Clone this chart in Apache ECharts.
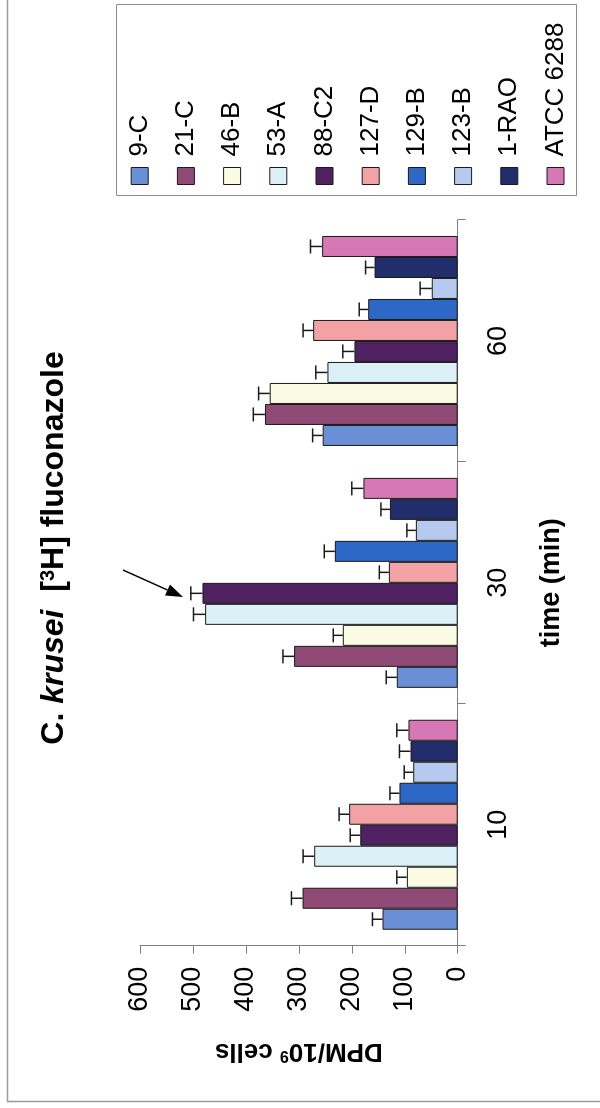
<!DOCTYPE html>
<html lang="en">
<head>
<meta charset="utf-8">
<title>C. krusei [3H] fluconazole</title>
<script src="https://cdn.jsdelivr.net/npm/echarts@6/dist/echarts.min.js"></script>
<style>
html, body { margin: 0; padding: 0; background: #fff; overflow: hidden; }
/* the chart is drawn landscape, then turned a quarter turn to the left like the scan */
#chart {
  position: absolute; left: 0; top: 0;
  width: 1108px; height: 600px;
  transform-origin: 0 0;
  transform: translate(0, 1108px) rotate(-90deg);
}
</style>
</head>
<body>
<div id="chart"></div>
<script>
const categories = ['10', '30', '60'];
const strains = ['9-C', '21-C', '46-B', '53-A', '88-C2', '127-D', '129-B', '123-B', '1-RAO', 'ATCC 6288'];
const colors = ['#6b8fd6', '#8f4a76', '#fbfbe4', '#dcf0f8', '#4f2160', '#f2a2a4', '#2e68c6', '#b6caf0', '#222d6b', '#d678b6'];

// DPM/10^9 cells at 10, 30, 60 min, and the error bar (+) for each
const mean9C   = [142, 115, 255];  const err9C   = [19, 20, 19];
const mean21C  = [293, 309, 364];  const err21C  = [21, 21, 22];
const mean46B  = [96, 217, 355];   const err46B  = [19, 18, 21];
const mean53A  = [271, 477, 246];  const err53A  = [21, 22, 22];
const mean88C2 = [184, 482, 195];  const err88C2 = [19, 22, 22];
const mean127D = [205, 130, 273];  const err127D = [19, 18, 19];
const mean129B = [110, 232, 169];  const err129B = [18, 20, 17];
const mean123B = [84, 79, 49];     const err123B = [17, 17, 22];
const mean1RAO = [89, 128, 157];   const err1RAO = [21, 17, 17];
const meanATCC = [93, 178, 256];   const errATCC = [22, 22, 22];

const means = [mean9C, mean21C, mean46B, mean53A, mean88C2, mean127D, mean129B, mean123B, mean1RAO, meanATCC];
const errs  = [err9C, err21C, err46B, err53A, err88C2, err127D, err129B, err123B, err1RAO, errATCC];

const FONT = "'Liberation Sans', Arial, sans-serif";
const GAP = 0.132; // share of a category band left empty
const AXIS_GREY = '#7f7f7f';

var chart = echarts.init(document.getElementById('chart'), null, {width: 1108, height: 600});

var series = strains.map(function (name, i) {
  return {
    name: name,
    type: 'bar',
    data: means[i],
    barGap: '0%',
    barCategoryGap: (GAP * 100) + '%',
    itemStyle: { color: colors[i], borderColor: '#1a1a1a', borderWidth: 1 },
    emphasis: { disabled: true }
  };
});

var errData = [];
strains.forEach(function (name, s) {
  categories.forEach(function (c, k) {
    errData.push([k, s, means[s][k], errs[s][k]]);
  });
});

function renderErr(params, api) {
  var cat = api.value(0), s = api.value(1), val = api.value(2), err = api.value(3);
  var base = api.coord([cat, val]);
  var end = api.coord([cat, val + err]);
  var band = api.size([1, 0])[0];
  var used = band * (1 - GAP);
  var bw = used / strains.length;
  var x = base[0] - used / 2 + bw * (s + 0.5);
  var half = 7;
  var st = { stroke: '#1a1a1a', lineWidth: 1.5 };
  return {
    type: 'group',
    children: [
      { type: 'line', shape: { x1: x, y1: base[1], x2: x, y2: end[1] }, style: st },
      { type: 'line', shape: { x1: x - half, y1: end[1], x2: x + half, y2: end[1] }, style: st }
    ]
  };
}
series.push({
  name: 'err',
  type: 'custom',
  renderItem: renderErr,
  data: errData,
  encode: { x: 0, y: 2 },
  z: 5,
  silent: true
});

// arrow pointing at 88-C2, 30 min
var arrowFrom = [538, 123];
var arrowTo = [511, 183];
var dx = arrowTo[0] - arrowFrom[0], dy = arrowTo[1] - arrowFrom[1];
var len = Math.sqrt(dx * dx + dy * dy);
var ux = dx / len, uy = dy / len;
var headLen = 17, headHalf = 6;
var hb = [arrowTo[0] - ux * headLen, arrowTo[1] - uy * headLen];

chart.setOption({
  animation: false,
  textStyle: { fontFamily: FONT, color: '#000' },
  title: {
    text: '{b|C. }{i|krusei}{b|  [}{s|3}{b|H] fluconazole}',
    left: 555,
    top: 33,
    textAlign: 'center',
    textStyle: {
      rich: {
        b: { fontSize: 32, fontWeight: 'bold', fontFamily: FONT, color: '#000' },
        i: { fontSize: 32, fontWeight: 'bold', fontStyle: 'italic', fontFamily: FONT, color: '#000' },
        s: { fontSize: 20, fontWeight: 'bold', fontFamily: FONT, color: '#000', verticalAlign: 'top' }
      }
    }
  },
  legend: {
    data: strains,
    orient: 'vertical',
    left: 923,
    top: 126.7,
    height: 470,
    padding: 0,
    icon: 'rect',
    itemWidth: 17,
    itemHeight: 17,
    itemGap: 20.2,
    selectedMode: false,
    itemStyle: { borderColor: '#1a1a1a', borderWidth: 1 },
    textStyle: { fontSize: 26, color: '#000', fontFamily: FONT, padding: [0, 0, 0, 6] }
  },
  grid: {
    left: 162.3,
    right: 220,
    top: 140,
    bottom: 142.3,
    containLabel: false,
    outerBoundsMode: 'none'
  },
  xAxis: {
    type: 'category',
    data: categories,
    position: 'bottom',
    axisLine: { show: true, lineStyle: { color: AXIS_GREY, width: 1 } },
    axisTick: { show: true, length: 8, alignWithLabel: false, lineStyle: { color: AXIS_GREY, width: 1 } },
    axisLabel: { fontSize: 27, color: '#000', margin: 27, fontFamily: FONT },
    splitLine: { show: false },
    name: 'time (min)',
    nameLocation: 'middle',
    nameGap: 80,
    nameTextStyle: { fontSize: 27, fontWeight: 'bold', color: '#000', fontFamily: FONT }
  },
  yAxis: {
    type: 'value',
    min: 0,
    max: 600,
    interval: 100,
    axisLine: { show: true, lineStyle: { color: AXIS_GREY, width: 1 } },
    axisTick: { show: true, length: 8, lineStyle: { color: AXIS_GREY, width: 1 } },
    axisLabel: { fontSize: 27, color: '#000', margin: 21, fontFamily: FONT },
    splitLine: { show: false },
    name: '{a|DPM/10}{s|9}{a| cells}',
    nameLocation: 'middle',
    nameRotate: 90,
    nameGap: 92,
    nameTextStyle: {
      rich: {
        a: { fontSize: 26, fontWeight: 'bold', color: '#000', fontFamily: FONT },
        s: { fontSize: 16, fontWeight: 'bold', color: '#000', fontFamily: FONT, verticalAlign: 'top' }
      }
    }
  },
  graphic: [
    { type: 'rect', shape: { x: 6.5, y: 7.5, width: 1200, height: 700 },
      style: { fill: 'none', stroke: '#9a9a9a', lineWidth: 1.5 }, silent: true },
    { type: 'rect', shape: { x: 912.5, y: 116.5, width: 191, height: 460 },
      style: { fill: 'none', stroke: '#8a8a8a', lineWidth: 1 }, silent: true },
    { type: 'line', shape: { x1: arrowFrom[0], y1: arrowFrom[1], x2: hb[0], y2: hb[1] },
      style: { stroke: '#000', lineWidth: 1.5 }, silent: true },
    { type: 'polygon', shape: { points: [
        arrowTo,
        [hb[0] - uy * headHalf, hb[1] + ux * headHalf],
        [hb[0] + uy * headHalf, hb[1] - ux * headHalf]
      ] }, style: { fill: '#000' }, silent: true }
  ],
  series: series
});
</script>
</body>
</html>
